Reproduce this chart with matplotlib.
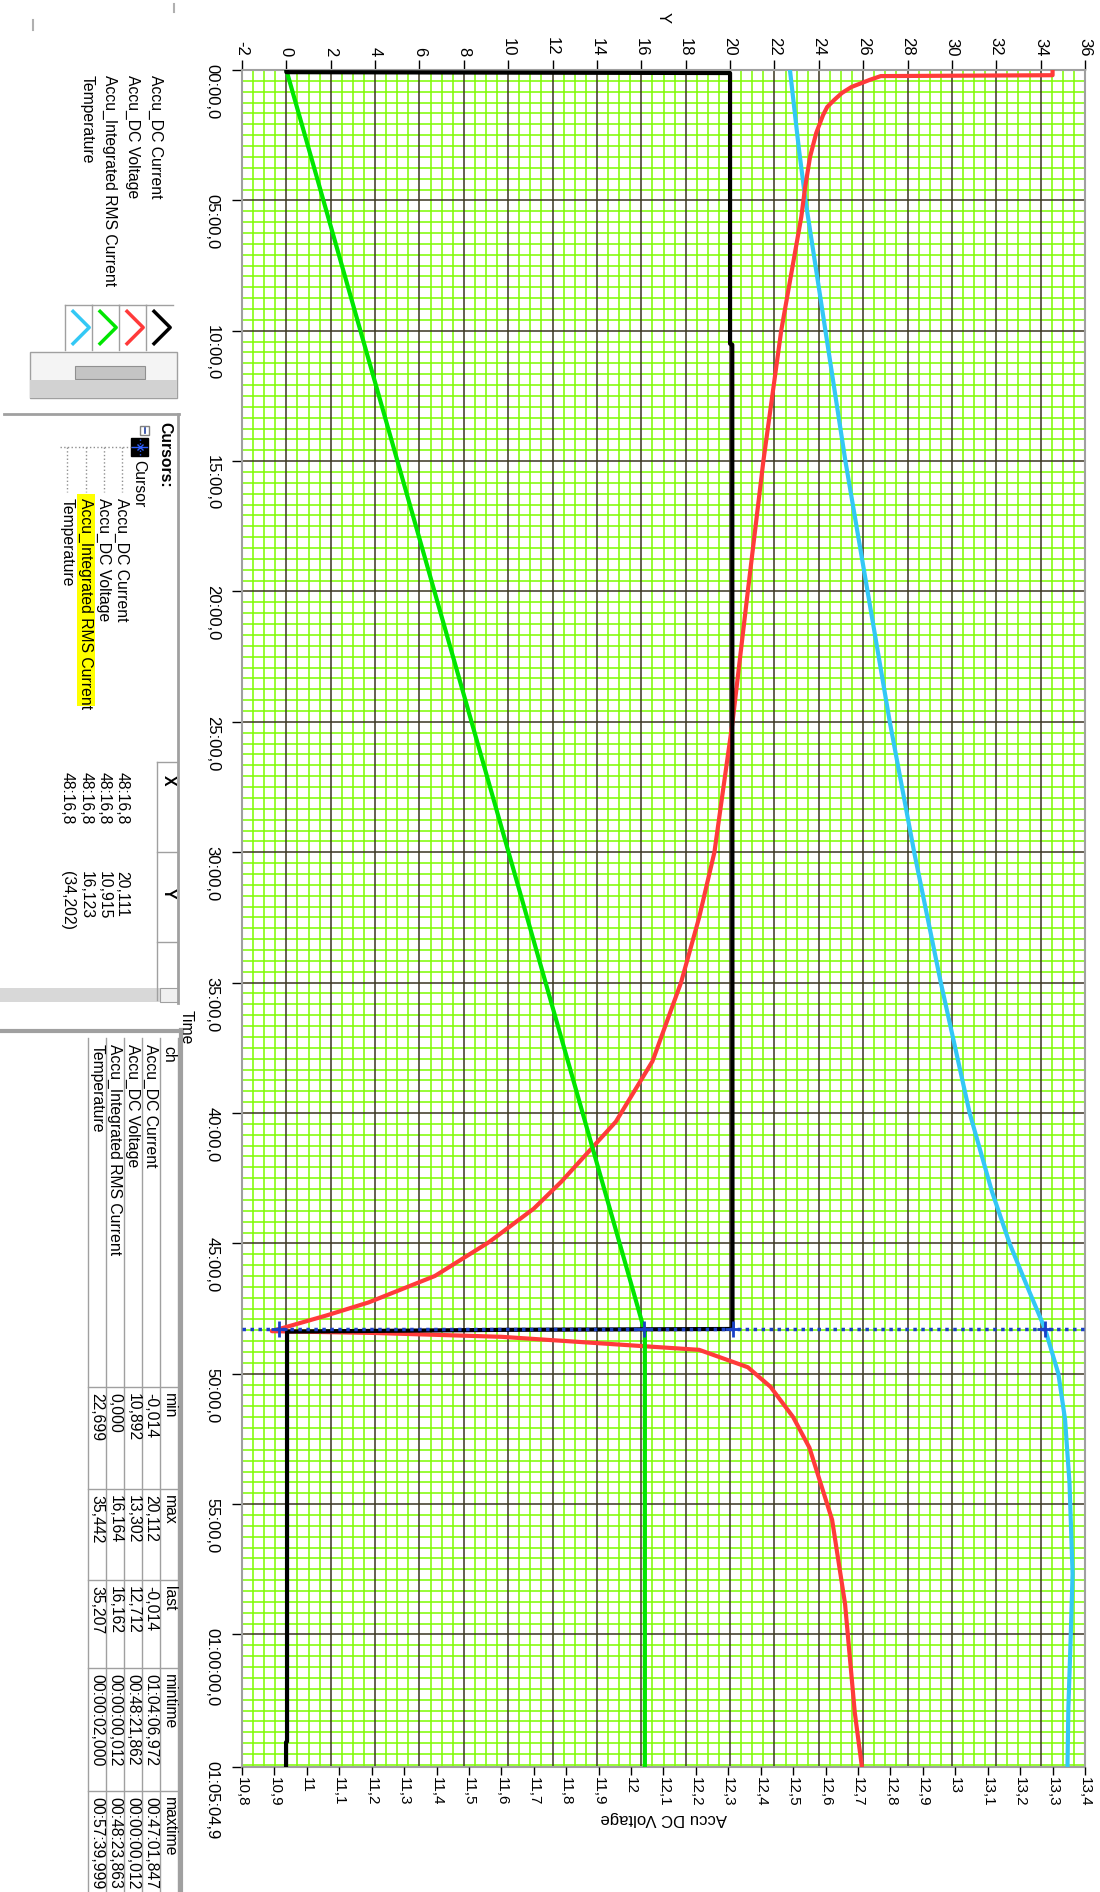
import matplotlib
matplotlib.use("Agg")
import matplotlib.pyplot as plt
import numpy as np
from matplotlib import font_manager
from matplotlib.patches import Rectangle
from matplotlib.path import Path

# ---- data (time in seconds) ----
current_t = [0, 5, 7, 630, 632, 2897, 2899, 2903, 3846, 3848, 3905]
current_y = [0.0, 0.0, 20.0, 20.0, 20.1, 20.11, 9.8, 0.03, 0.03, -0.014, -0.014]

rms_t = [0, 2897, 2900, 3905]
rms_y = [0.0, 16.12, 16.16, 16.16]

volt_t = [0, 12, 14, 23, 39, 53, 70, 85, 104, 145, 200, 269, 338, 600, 900,
          1200, 1500, 1800, 1950, 2100, 2281, 2420, 2558, 2620, 2697, 2775,
          2836, 2866, 2897, 2902, 2906, 2915, 2945, 2985, 3030, 3100, 3170,
          3336, 3530, 3780, 3905]
volt_v = [13.30, 13.30, 12.77, 12.735, 12.68, 12.65, 12.625, 12.605, 12.592,
          12.571, 12.552, 12.537, 12.525, 12.463, 12.408, 12.360, 12.313,
          12.257, 12.21, 12.154, 12.066, 11.953, 11.785, 11.70, 11.562, 11.395,
          11.19, 11.06, 10.915, 10.892, 11.2, 11.60, 12.21, 12.36, 12.43,
          12.50, 12.55, 12.62, 12.66, 12.69, 12.712]

temp_t = [0, 180, 300, 600, 900, 1200, 1500, 1800, 2100, 2400, 2580, 2700,
          2800, 2897, 3000, 3105, 3250, 3460, 3615, 3770, 3905]
temp_y = [22.70, 23.1, 23.4, 24.3, 25.2, 26.2, 27.2, 28.3, 29.5, 30.8, 31.8,
          32.6, 33.4, 34.2, 34.8, 35.1, 35.3, 35.44, 35.35, 35.25, 35.21]

cursor_t = 2896.8
cursor_vals = {"current": 20.111, "voltage": 10.915, "rms": 16.123, "temp": 34.202}

time_end = 3904.9
time_ticks = [0, 300, 600, 900, 1200, 1500, 1800, 2100, 2400, 2700, 3000, 3300, 3600, 3904.9]
y_ticks = list(range(-2, 37, 2))
volt_ticks = [v / 10 for v in range(108, 135)]

channels = ["Accu_DC Current", "Accu_DC Voltage", "Accu_Integrated RMS Current", "Temperature"]
channel_colors = ["#000000", "#ff3a3a", "#00e600", "#33c8f5"]
cursor_x_txt = ["48:16,8", "48:16,8", "48:16,8", "48:16,8"]
cursor_y_txt = ["20,111", "10,915", "16,123", "(34,202)"]
stat_cols = ["min", "max", "last", "mintime", "maxtime"]
stat_min = ["-0,014", "10,892", "0,000", "22,699"]
stat_max = ["20,112", "13,302", "16,164", "35,442"]
stat_last = ["-0,014", "12,712", "16,162", "35,207"]
stat_mintime = ["01:04:06,972", "00:48:21,862", "00:00:00,012", "00:00:02,000"]
stat_maxtime = ["00:47:01,847", "00:00:00,012", "00:48:23,863", "00:57:39,999"]


def pick_font(names):
    avail = {f.name for f in font_manager.fontManager.ttflist}
    for n in names:
        if n in avail:
            return n
    return "DejaVu Sans"


FONT = pick_font(["Liberation Sans", "Arimo", "DejaVu Sans"])
plt.rcParams["font.family"] = [FONT, "DejaVu Sans"]


def fmt_time(sec):
    m, s = divmod(sec, 60)
    h, m = divmod(int(m), 60)
    txt = f"{m:02d}:{s:04.1f}"
    if h:
        txt = f"{h:02d}:" + txt
    return txt.replace(".", ",")


def fmt_num(v):
    txt = f"{v:.1f}".replace(".", ",")
    return txt[:-2] if txt.endswith(",0") else txt


W, H = 1100, 1892
fig = plt.figure(figsize=(W / 100, H / 100), dpi=100)

# UI overlay in pixel coordinates (screen layout of the left panel)
ui = fig.add_axes([0, 0, 1, 1])
ui.set_xlim(0, W)
ui.set_ylim(H, 0)
ui.axis("off")

GRAY = "#a0a0a0"
FS = 11.3


def vtext(x, y, s, **kw):
    ui.text(x, y, s, rotation=-90, ha="center", va="top", fontsize=FS, **kw)


# window frame bits
ui.plot([174, 174], [4, 12], color="#b0b0b0", lw=1.5)
ui.plot([33, 33], [20, 30], color="#b0b0b0", lw=1.5)

# ---- legend column ----
leg_x = [156, 133, 110, 87]
for name, x in zip(channels, leg_x):
    vtext(x, 75, name)

chev = Path([(-0.5, 1), (0.5, 0), (-0.5, -1)], [Path.MOVETO, Path.LINETO, Path.LINETO])
chev_x = [161, 134, 107, 80]
for color, cx in zip(channel_colors, chev_x):
    bx = cx - 15
    ui.plot([bx, bx + 27], [305, 305], color=GRAY, lw=1)
    ui.plot([bx, bx], [305, 350], color=GRAY, lw=1)
    ui.plot([cx], [327], marker=chev, markersize=25, color=color,
            markerfacecolor="none", markeredgewidth=2.5, linestyle="none")

# scrollbar under legend
ui.add_patch(Rectangle((30, 352), 147, 46, facecolor="#f4f4f4", edgecolor=GRAY, lw=1))
ui.add_patch(Rectangle((75, 366), 70, 13, facecolor="#c4c4c4", edgecolor="#909090", lw=0.8))
ui.add_patch(Rectangle((30, 380), 147, 18, facecolor="#d2d2d2", edgecolor="none"))

# ---- cursors panel ----
ui.plot([4, 179], [414, 414], color=GRAY, lw=2)
ui.plot([178, 178], [414, 1003], color=GRAY, lw=2)
vtext(165, 422, "Cursors:", fontweight="bold")
ui.add_patch(Rectangle((140, 426), 9, 9, facecolor="white", edgecolor="#808080", lw=1))
ui.plot([144.5, 144.5], [428, 433], color="#2040a0", lw=1.2)
ui.add_patch(Rectangle((131, 438), 17, 18, facecolor="black", edgecolor="black"))
ui.plot([139.5, 139.5], [439, 455], color="#3060ff", lw=1, ls=":")
ui.plot([132, 147], [447, 447], color="#3060ff", lw=1)
ui.plot([139.5], [447], marker="x", color="#3060ff", markersize=4)
vtext(139, 460, "Cursor")

row_x = [122, 104, 86, 67]
ui.plot([60, 131], [447, 447], color="#909090", lw=1, ls=":")
ui.add_patch(Rectangle((77, 494), 18, 212, facecolor="#ffff00", edgecolor="none"))
for name, x in zip(channels, row_x):
    ui.plot([x, x], [447, 492], color="#909090", lw=1, ls=":")
    vtext(x, 498, name)

ui.plot([157, 157], [762, 1000], color=GRAY, lw=1)
ui.plot([157, 178], [762, 762], color=GRAY, lw=1)
ui.plot([157, 178], [852, 852], color=GRAY, lw=1)
ui.plot([157, 178], [942, 942], color=GRAY, lw=1)
vtext(168, 775, "X", fontweight="bold")
vtext(168, 888, "Y", fontweight="bold")
for x, xs, ys in zip(row_x, cursor_x_txt, cursor_y_txt):
    vtext(x, 772, xs)
    vtext(x, 871, ys)

ui.add_patch(Rectangle((0, 988), 178, 14, facecolor="#d8d8d8", edgecolor="none"))
ui.add_patch(Rectangle((160, 988), 18, 14, facecolor="#f0f0f0", edgecolor=GRAY, lw=0.8))
vtext(186, 1010, "Time")

# ---- statistics table ----
col_y = [1038, 1387, 1489, 1580, 1668, 1791, 1892]
line_x = [178, 160, 142, 124, 106, 88]
ui.plot([181, 181], [1030, H], color=GRAY, lw=3)
ui.plot([0, 182], [1031, 1031], color=GRAY, lw=3)
for x in line_x:
    ui.plot([x, x], [col_y[0], H], color=GRAY, lw=1)
for y in col_y[1:-1]:
    ui.plot([line_x[-1], line_x[0]], [y, y], color=GRAY, lw=1)
head_x = 169
vtext(head_x, col_y[0] + 8, "ch")
for y, lab in zip(col_y[1:], stat_cols):
    vtext(head_x, y + 6, lab)
table_rows = [151, 133, 115, 97]
cols = [channels, stat_min, stat_max, stat_last, stat_mintime, stat_maxtime]
for ci, values in enumerate(cols):
    for x, v in zip(table_rows, values):
        vtext(x, col_y[ci] + 6, v)

# ---- main chart (rotated view: time runs downwards) ----
ax = fig.add_axes([242 / W, 1 - 1767 / H, 843 / W, 1697 / H])
ax2 = ax.twiny()

ax.set_xlim(-2, 36)
ax.set_ylim(time_end, 0)
ax.set_xticks(y_ticks)
ax.set_xticklabels([str(v) for v in y_ticks])
ax.set_xticks(np.arange(-2, 36.01, 0.5), minor=True)
ax.set_yticks(time_ticks)
ax.set_yticklabels([fmt_time(t) for t in time_ticks])
ax.set_yticks(np.arange(0, time_end, 25), minor=True)
ax.set_axisbelow(True)
ax.grid(which="minor", color="#7cfc00", lw=1.1)
ax.vlines(y_ticks, 0, 1, transform=ax.get_xaxis_transform(), color="#3b3522", lw=1.1, zorder=0.8)
ax.hlines(time_ticks, 0, 1, transform=ax.get_yaxis_transform(), color="#3b3522", lw=1.1, zorder=0.8)
ax.xaxis.tick_top()
ax.tick_params(axis="x", which="major", top=True, bottom=False, labeltop=True,
               labelbottom=False, direction="out", length=7, width=1, pad=3,
               labelrotation=-90, labelsize=12)
ax.tick_params(axis="y", which="major", direction="out", length=7, width=1, pad=9,
               labelrotation=-90, labelsize=12)
ax.tick_params(which="minor", length=0)
for s in ax.spines.values():
    s.set_color(GRAY)
    s.set_linewidth(1.5)
ax.set_xlabel("Y", rotation=-90, fontsize=12)
ax.xaxis.set_label_position("top")
ax.xaxis.set_label_coords(0.5, 1 + 52 / 1697)
ax.xaxis.label.set_va("center")

ax2.set_xlim(10.8, 13.4)
ax2.set_xticks(volt_ticks)
ax2.set_xticklabels([fmt_num(v) for v in volt_ticks])
ax2.xaxis.set_ticks_position("bottom")
ax2.xaxis.set_label_position("bottom")
ax2.tick_params(axis="x", top=False, bottom=True, labeltop=False, labelbottom=True,
                direction="out", length=6, width=1, pad=1,
                labelrotation=-90, labelsize=11)
for s in ax2.spines.values():
    s.set_visible(False)
ax2.set_xlabel("Accu DC Voltage", rotation=180, fontsize=12)
ax2.xaxis.set_label_coords(0.5, -(1818 - 1767) / 1697)
ax2.xaxis.label.set_va("center")

# series: red on the voltage axis, the others on the Y axis
ax2.plot(temp_y, temp_t, color=channel_colors[3], lw=3, transform=ax.transData, zorder=2)
ax2.plot(volt_v, volt_t, color=channel_colors[1], lw=3, zorder=2.5)
ax2.plot(rms_y, rms_t, color=channel_colors[2], lw=3, transform=ax.transData, zorder=3)
ax2.plot(current_y, current_t, color=channel_colors[0], lw=3, transform=ax.transData, zorder=4)
ax2.set_xlim(10.8, 13.4)
ax2.set_ylim(time_end, 0)

# cursor
ax2.axhline(cursor_t, color="#1a3fc8", lw=2.5, ls=(0, (1, 1.3)), zorder=5)
for key in ["current", "rms", "temp"]:
    ax2.plot([cursor_vals[key]], [cursor_t], marker="+", markersize=12, mew=2,
             color="#1a3fc8", transform=ax.transData, zorder=6)
ax2.plot([cursor_vals["voltage"]], [cursor_t], marker="+", markersize=12, mew=2,
         color="#1a3fc8", zorder=6)

fig.savefig("out.png", dpi=100)
